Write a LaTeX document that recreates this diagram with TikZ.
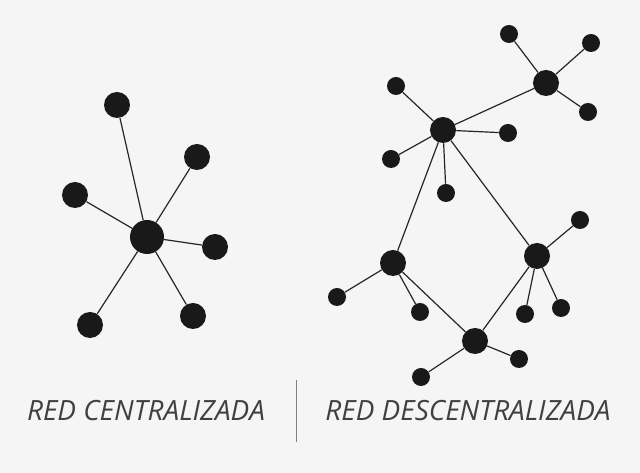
\documentclass[tikz,border=0pt]{standalone}
\usepackage{fontspec}
\setmainfont{Open Sans}
\begin{document}
\begin{tikzpicture}[x=0.75pt,y=-0.75pt,
 big/.style={circle,fill=black!90,inner sep=0pt,minimum size=34*0.75pt},
 mid/.style={circle,fill=black!90,inner sep=0pt,minimum size=26*0.75pt},
 sm/.style={circle,fill=black!90,inner sep=0pt,minimum size=18*0.75pt},
 ln/.style={draw=black!85,line width=0.9pt},
 lab/.style={font=\itshape\fontsize{15.5}{16}\selectfont,text=black!75}]
\fill[black!4] (0,0) rectangle (640,473);
\useasboundingbox (0,0) rectangle (640,473);
% left
\node[big] (c) at (147,237) {};
\foreach \n/\p in {l1/{(117,105)},l2/{(197,157)},l3/{(75,195)},l4/{(215,247)},l5/{(90,325)},l6/{(193,316)}}
 {\node[mid] (\n) at \p {}; \draw[ln] (c) -- (\n);}
% right
\node[mid] (A) at (443,130) {};
\node[mid] (B) at (546,83) {};
\node[mid] (C) at (393,263) {};
\node[mid] (D) at (537,256) {};
\node[mid] (E) at (475,341) {};
\draw[ln] (A)--(B) (A)--(C) (A)--(D) (C)--(E) (D)--(E);
\foreach \h/\n/\p in {B/b1/{(509,34)},B/b2/{(591,43)},B/b3/{(588,112)},
 A/a1/{(396,86)},A/a2/{(508,133)},A/a3/{(391,159)},A/a4/{(446,193)},
 C/c1/{(337,297)},C/c2/{(420,312)},
 D/d1/{(580,220)},D/d2/{(525,314)},D/d3/{(561,308)},
 E/e1/{(421,377)},E/e2/{(519,359)}}
 {\node[sm] (\n) at \p {}; \draw[ln] (\h) -- (\n);}
\node[lab,xscale=1.35,yscale=1.35] (t1) at (146,411) {RED CENTRALIZADA};
\node[lab,xscale=1.35,yscale=1.35] (t2) at (468,411) {RED DESCENTRALIZADA};
\draw[black!50,line width=0.6pt] (296,380) -- (296,442);
\end{tikzpicture}
\end{document}
